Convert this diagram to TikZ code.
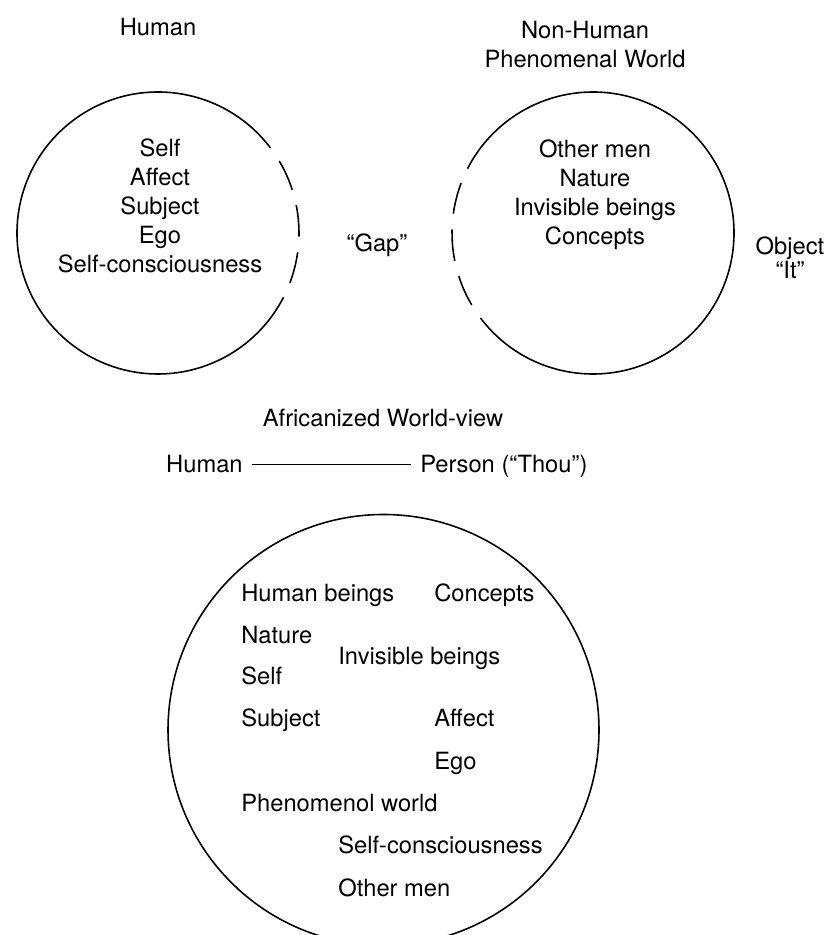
\documentclass[tikz,border=0pt]{standalone}
\usepackage{fontspec}
\setmainfont{TeX Gyre Heros}
\begin{document}
\begin{tikzpicture}[
    font=\fontsize{13.5}{16.5}\selectfont,
    ring/.style={line width=0.9pt},
    gapline/.style={dash pattern=on 18pt off 9pt},
    caption/.style={align=center, inner sep=0pt},
    word/.style={anchor=base west, inner sep=0pt}
]
\useasboundingbox (0,0) rectangle (16.66,18.70);

% circle centres
\coordinate (humanc) at (3.16,14.04);
\coordinate (worldc) at (11.86,14.04);
\coordinate (africac) at (7.67,4.10);

% Human circle - open (dashed) towards the gap
\draw[ring] ([shift={(38:2.82)}]humanc) arc (38:320:2.82);
\draw[ring, gapline] ([shift={(-40:2.82)}]humanc) arc (-40:38:2.82);

% Non-human circle - open (dashed) towards the gap
\draw[ring] ([shift={(218:2.82)}]worldc) arc (218:500:2.82);
\draw[ring, gapline] ([shift={(140:2.82)}]worldc) arc (140:218:2.82);

% Africanized circle - closed
\draw[ring] (africac) circle (4.31);

% Top labels
\node[caption] (humantitle) at (3.16,18.16) {Human};
\node[caption] (worldtitle) at (11.70,17.81) {Non-Human\\Phenomenal World};
\node[caption] (humanlist) at (3.20,14.59) {Self\\Affect\\Subject\\Ego\\Self-consciousness};
\node[caption] (worldlist) at (11.90,14.81) {Other men\\Nature\\Invisible beings\\Concepts};
\node[caption] (gap) at (7.54,13.80) {“Gap”};
\node[caption, font=\fontsize{13.5}{13.5}\selectfont] (object) at (15.80,13.54) {Object\\“It”};

% Africanized world-view
\node[caption] (worldview) at (7.66,10.34) {Africanized World-view};
\node[caption, anchor=base east] (human) at (4.86,9.24) {Human};
\node[caption, anchor=base west] (person) at (8.40,9.24) {Person (“Thou”)};
\draw[line width=0.8pt, shorten <=5pt, shorten >=5pt] (human.east) -- (human.east -| person.west);

% Items inside the Africanized circle
\node[word] (beings) at (4.82,6.66) {Human beings};
\node[word] (concepts) at (8.68,6.66) {Concepts};
\node[word] (nature) at (4.82,5.82) {Nature};
\node[word] (invisible) at (6.76,5.40) {Invisible beings};
\node[word] (self) at (4.82,5.00) {Self};
\node[word] (subject) at (4.82,4.16) {Subject};
\node[word] (affect) at (8.68,4.16) {Affect};
\node[word] (ego) at (8.68,3.30) {Ego};
\node[word] (phenomenal) at (4.82,2.46) {Phenomenol world};
\node[word] (selfcons) at (6.76,1.62) {Self-consciousness};
\node[word] (othermen) at (6.76,0.78) {Other men};

\end{tikzpicture}
\end{document}
